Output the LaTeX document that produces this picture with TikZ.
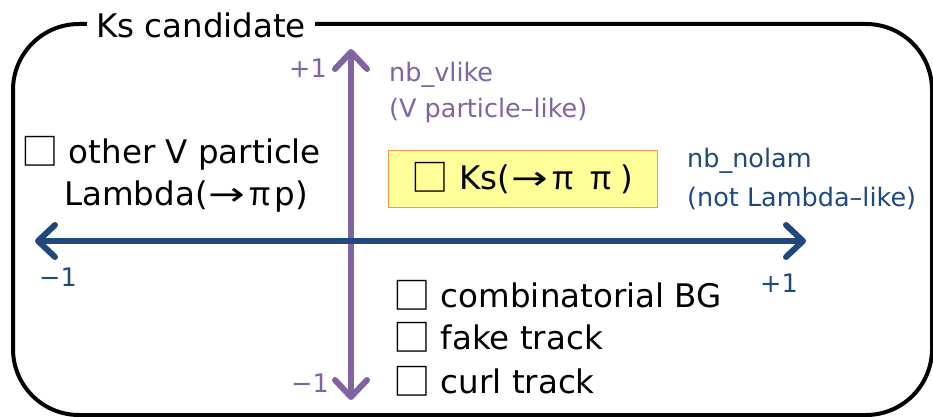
\documentclass[tikz,border=0pt]{standalone}
\usepackage{fontspec}
\setmainfont{DejaVu Sans}
\newfontfamily\cjkfont{Noto Sans CJK JP}
\newcommand{\bx}{\raisebox{-0.06em}{\scalebox{1.15}{\cjkfont □}}}
\newcommand{\ra}{\makebox[1.2em]{\scalebox{1.35}[1]{→}}}
\newcommand{\ppi}{\makebox[0.85em]{\cjkfont π}}
\usetikzlibrary{arrows.meta}
\definecolor{vpurple}{HTML}{8064A2}
\definecolor{nblue}{HTML}{1F497D}
\definecolor{ksfill}{HTML}{FFFF99}
\definecolor{ksedge}{HTML}{F79646}
\tikzset{
  axisarrow/.style={line width=6pt,-{Straight Barb[length=17pt,width=32pt,line cap=round,line join=round]}},
  maintext/.style={font=\fontsize{32.5}{44}\selectfont,inner sep=0pt},
  labeltext/.style={font=\fontsize{25.5}{38}\selectfont,inner sep=0pt},
}
\begin{document}
\begin{tikzpicture}[x=1pt,y=-1pt]
\useasboundingbox (0,0) rectangle (933,417);
% frame
\draw[line width=4pt,rounded corners=66pt] (13,24) rectangle (932,415);
\node[maintext,fill=white,inner xsep=9pt,inner ysep=2pt] (title) at (201,25) {Ks candidate};
% axes
\coordinate (orig) at (351,241);
\coordinate (vbot) at (351,400);
\coordinate (vtop) at (351,49);
\coordinate (hl) at (35,241);
\coordinate (hr) at (806,241);
\draw[axisarrow,vpurple] (orig) -- (vtop);
\draw[axisarrow,vpurple] (orig) -- (vbot);
\draw[axisarrow,nblue] (orig) -- (hl);
\draw[axisarrow,nblue] (orig) -- (hr);
% axis labels
\node[labeltext,text=vpurple] (vp1) at (308,68) {+1};
\node[labeltext,text=vpurple] (vm1) at (310,383) {−1};
\node[labeltext,text=nblue] (hm1) at (58,277) {−1};
\node[labeltext,text=nblue] (hp1) at (779,283) {+1};
\node[labeltext,text=vpurple,anchor=west] (vlike1) at (389,75) {nb\_vlike};
\node[labeltext,text=vpurple,anchor=west] (vlike2) at (389,110) {(V particle–like)};
\node[labeltext,text=nblue,anchor=west] (nolam1) at (687,161) {nb\_nolam};
\node[labeltext,text=nblue,anchor=west] (nolam2) at (687,198) {(not Lambda–like)};
% categories
\node[maintext,fill=ksfill,draw=ksedge,line width=1pt,minimum width=269pt,minimum height=57pt] (ks) at (522.5,178.5) {\bx\ Ks(\ra\ppi\ \ppi\,)};
\node[maintext,anchor=west] (other1) at (21,153) {\bx\ other V particle};
\node[maintext] (other2) at (186,197) {Lambda(\ra\ppi p)};
\node[maintext,anchor=west] (comb) at (393,295) {\bx\ combinatorial BG};
\node[maintext,anchor=west] (fake) at (393,337) {\bx\ fake track};
\node[maintext,anchor=west] (curl) at (393,381) {\bx\ curl track};
\end{tikzpicture}
\end{document}
